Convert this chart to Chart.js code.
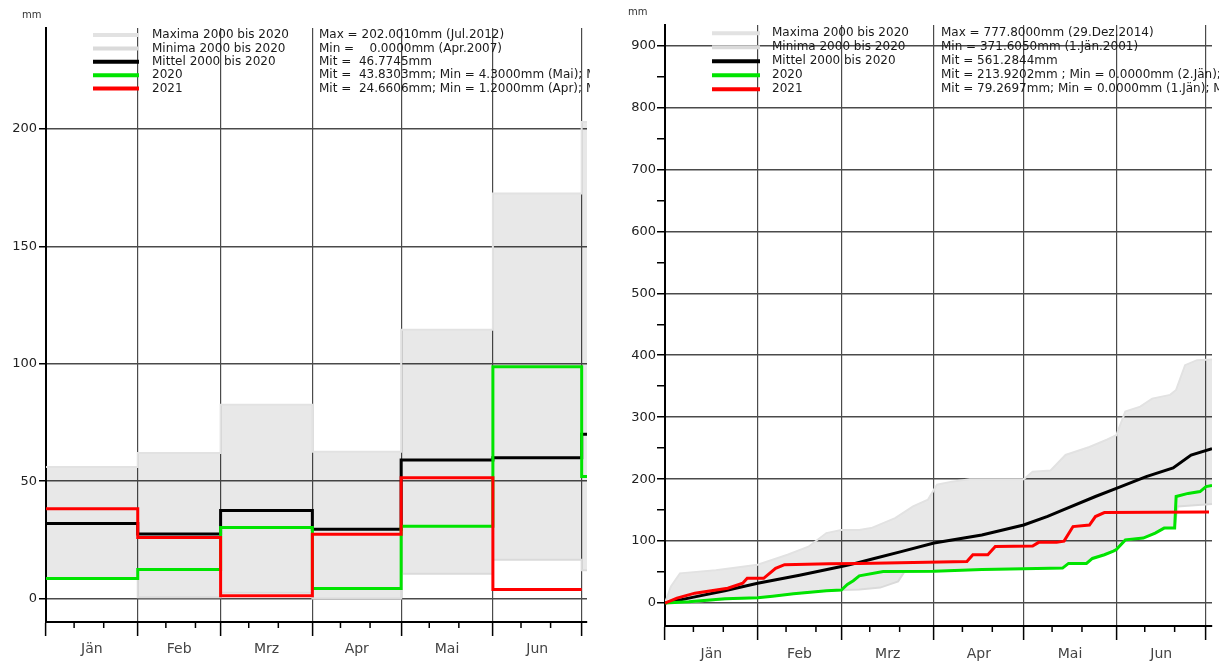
<!DOCTYPE html>
<html>
<head>
<meta charset="utf-8">
<script src="https://cdn.jsdelivr.net/npm/chart.js@4.4.1/dist/chart.umd.min.js"></script>
<style>
  body { margin: 0; background: #fff; }
  #wrap { position: relative; width: 1219px; height: 664px; overflow: hidden; }
  #monthChart { position: absolute; left: 0; top: 0; }
  #sumChart { position: absolute; left: 600px; top: 0; }
</style>
</head>
<body>
<div id="wrap">
  <canvas id="monthChart" width="600" height="664"></canvas>
  <canvas id="sumChart" width="619" height="664"></canvas>
</div>
<script>
// --- Data: Niederschlag 2000-2021 ---
const months = ["Jän", "Feb", "Mrz", "Apr", "Mai", "Jun", "Jul"];
const monthDays = [31, 28, 31, 30, 31, 30, 31];

// monthly sums (mm)
const maxMonthly = [56, 62, 82.5, 62.5, 114.5, 172.5, 203];
const minMonthly = [8.5, 0.5, 2.5, 0, 10.5, 16.5, 12];
const mittelMonthly = [32, 27.5, 37.5, 29.5, 59, 60, 70];
const monthly2020 = [8.5, 12.4, 30.3, 4.3, 30.8, 98.7, 52];
const monthly2021 = [38.2, 26, 1.2, 27.4, 51.4, 3.8];
const monthlyYTicks = [0, 50, 100, 150, 200];

// cumulative sums, [day of year, mm]
const sumMax = [[0,0],[2,27],[5,48],[17,53],[31,62],[41,78],[48,91],[54,113],[59,118],[65,118],[69,121],[77,137],[83,156],[88,167],[91,191],[96,196],[102,200],[120,200],[123,212],[129,214],[134,239],[142,252],[148,264],[151,271],[154,309],[159,317],[163,330],[169,336],[171,344],[174,384],[178,392],[183,393]];
const sumMin = [[0,0],[10,2],[21,6],[31,8.5],[43,15],[54,20],[59,21],[65,22],[72,25],[78,35],[80,50],[90,51.3],[106,54],[120,55.6],[133,56.5],[135,64],[141,64],[143,72],[147,78],[151,86.4],[154,102],[160,105],[164,113],[167,121],[170.5,121],[171.5,156],[183,160]];
const sumMittel = [[0,0],[10,10],[20,20],[31,32],[45,45],[59,59],[62,62],[70,72],[79,83],[90,97],[106,110],[120,126],[128,140],[133,150],[144,172],[151,185],[161,204],[170,218],[176,239],[183,249]];
const sum2020 = [[0,0],[8,2],[20,7],[31,8.5],[36,11],[43,15],[54,20],[59,21],[61,30],[63,36],[65,44],[73,51],[90,51.3],[106,54],[120,55.6],[133,56.5],[135,64],[141,64],[143,72],[147,78],[150,84],[151,86.4],[154,102],[160,105],[164,113],[167,121],[170.5,121],[171,172],[175,177],[179,180],[181,188],[183,190]];
const sum2021 = [[0,0],[4,8],[10,16],[21,24],[26,32],[27.5,40],[33,40],[37,56],[40,62],[55,63.6],[65,64],[101,67],[103,78],[108,78],[110.5,91.3],[123,92],[125,98],[131,98],[133.5,100],[136.5,123.5],[142,126],[144,139.7],[147,146],[163,146.4],[182,147]];
const sumYTicks = [0, 50, 100, 150, 200, 250, 300, 350, 400, 450, 500, 550, 600, 650, 700, 750, 800, 850, 900];

// legend texts
const legendNames = ["Maxima 2000 bis 2020", "Minima 2000 bis 2020", "Mittel 2000 bis 2020", "2020", "2021"];
const monthlyStats = [
  "Max = 202.0010mm (Jul.2012)",
  "Min =    0.0000mm (Apr.2007)",
  "Mit =  46.7745mm",
  "Mit =  43.8303mm; Min = 4.3000mm (Mai); Max",
  "Mit =  24.6606mm; Min = 1.2000mm (Apr); Max"
];
const sumStats = [
  "Max = 777.8000mm (29.Dez.2014)",
  "Min = 371.6050mm (1.Jän.2001)",
  "Mit = 561.2844mm",
  "Mit = 213.9202mm ; Min = 0.0000mm (2.Jän); Max",
  "Mit = 79.2697mm; Min = 0.0000mm (1.Jän); Max"
];

// --- Styles ---
const FONT = "'DejaVu Sans', sans-serif";
const COLORS = {
  maxLine: "#e2e2e2",
  minLine: "#dadada",
  band: "rgba(0,0,0,0.09)",
  mittel: "#000000",
  y2020: "#00e400",
  y2021: "#ff0000",
  grid: "#4a4a4a"
};
const legendColors = [COLORS.maxLine, COLORS.minLine, COLORS.mittel, COLORS.y2020, COLORS.y2021];

Chart.defaults.font.family = FONT;

// month start days
const monthStarts = [];
let acc = 0;
monthDays.forEach(d => { monthStarts.push(acc); acc += d; });

function stepPoints(vals) {
  const pts = vals.map((v, i) => ({ x: monthStarts[i], y: v }));
  const last = vals.length - 1;
  pts.push({ x: monthStarts[last] + monthDays[last], y: vals[last] });
  return pts;
}

function toPoints(pairs) {
  return pairs.map(p => ({ x: p[0], y: p[1] }));
}

// x ticks: month boundaries (grid + long tick) and month middles (label only)
function dayTicks(max) {
  const ticks = [];
  monthStarts.forEach((s, i) => {
    if (s <= max) ticks.push({ value: s, kind: "month", name: "" });
    const mid = s + monthDays[i] / 2;
    if (mid < max) ticks.push({ value: mid, kind: "mid", name: months[i] });
  });
  return ticks.sort((a, b) => a.value - b.value);
}

function xScale(max, labelPad, height) {
  return {
    type: "linear",
    min: 0,
    max: max,
    afterBuildTicks: s => { s.ticks = dayTicks(max); },
    afterFit: s => { s.height = height; },
    grid: {
      color: c => (c.tick && c.tick.kind === "month") ? COLORS.grid : "rgba(0,0,0,0)",
      lineWidth: 1.2,
      tickLength: 14,
      tickColor: c => (c.tick && c.tick.kind === "month") ? "#000" : "rgba(0,0,0,0)",
      tickWidth: 1.5
    },
    border: { color: "#000", width: 2 },
    ticks: {
      autoSkip: false,
      maxRotation: 0,
      padding: labelPad,
      color: "#444",
      font: { size: 14 },
      callback: (v, i, t) => t[i].kind === "mid" ? t[i].name : ""
    }
  };
}

// legend, "mm" label and minor x ticks
function decorPlugin(stats, o) {
  return {
    id: "decor",
    afterDraw(chart) {
      const ctx = chart.ctx;
      const area = chart.chartArea;
      const x = chart.scales.x;
      ctx.save();

      // minor ticks on 10th and 20th
      ctx.strokeStyle = "#000";
      ctx.lineWidth = 1.5;
      monthStarts.forEach(s => {
        [9.5, 19.5].forEach(off => {
          const v = s + off;
          if (v < x.max) {
            const px = x.getPixelForValue(v);
            ctx.beginPath();
            ctx.moveTo(px, area.bottom);
            ctx.lineTo(px, area.bottom + 6);
            ctx.stroke();
          }
        });
      });

      ctx.fillStyle = "#333";
      ctx.font = "10px " + FONT;
      ctx.textBaseline = "middle";
      ctx.fillText("mm", o.mmX, o.mmY);

      ctx.font = "12px " + FONT;
      legendNames.forEach((name, i) => {
        const y = o.top + i * o.step;
        ctx.strokeStyle = legendColors[i];
        ctx.lineWidth = 4;
        ctx.beginPath();
        ctx.moveTo(o.lineX0, y);
        ctx.lineTo(o.lineX1, y);
        ctx.stroke();
        ctx.fillStyle = "#1a1a1a";
        ctx.fillText(name, o.textX, y);
      });

      ctx.beginPath();
      ctx.rect(0, 0, o.clipRight, chart.height);
      ctx.clip();
      stats.forEach((s, i) => {
        ctx.fillText(s, o.statX, o.top + i * o.step);
      });
      ctx.restore();
    }
  };
}

function lineSet(label, data, color, stepped) {
  return {
    label: label,
    data: data,
    borderColor: color,
    borderWidth: 3,
    pointRadius: 0,
    stepped: stepped,
    fill: false
  };
}

// --- Left: monthly sums ---
new Chart(document.getElementById("monthChart"), {
  type: "line",
  data: {
    datasets: [
      lineSet("2021", stepPoints(monthly2021), COLORS.y2021, true),
      lineSet("2020", stepPoints(monthly2020), COLORS.y2020, true),
      lineSet("Mittel 2000 bis 2020", stepPoints(mittelMonthly), COLORS.mittel, true),
      { label: "Minima 2000 bis 2020", data: stepPoints(minMonthly), borderColor: COLORS.minLine,
        borderWidth: 2, pointRadius: 0, stepped: true, fill: false },
      { label: "Maxima 2000 bis 2020", data: stepPoints(maxMonthly), borderColor: COLORS.maxLine,
        borderWidth: 2, pointRadius: 0, stepped: true, fill: "-1", backgroundColor: COLORS.band }
    ]
  },
  options: {
    responsive: false,
    animation: false,
    events: [],
    layout: { padding: { top: 28, right: 13, left: 0, bottom: 0 } },
    plugins: { legend: { display: false }, tooltip: { enabled: false } },
    scales: {
      x: xScale(182.8, 5, 42),
      y: {
        type: "linear",
        min: -10,
        max: 243,
        afterBuildTicks: s => { s.ticks = monthlyYTicks.map(v => ({ value: v })); },
        afterFit: s => { s.width = 46; },
        grid: { color: COLORS.grid, lineWidth: 1.5, tickLength: 7, tickColor: "#000" },
        border: { color: "#000", width: 2 },
        ticks: { color: "#222", padding: 2, font: { size: 13 } }
      }
    }
  },
  plugins: [decorPlugin(monthlyStats, {
    mmX: 22, mmY: 15, top: 35, step: 13.4,
    lineX0: 93, lineX1: 139, textX: 152, statX: 319, clipRight: 590
  })]
});

// --- Right: cumulative sums ---
new Chart(document.getElementById("sumChart"), {
  type: "line",
  data: {
    datasets: [
      lineSet("2021", toPoints(sum2021), COLORS.y2021, false),
      lineSet("2020", toPoints(sum2020), COLORS.y2020, false),
      lineSet("Mittel 2000 bis 2020", toPoints(sumMittel), COLORS.mittel, false),
      { label: "Minima 2000 bis 2020", data: toPoints(sumMin), borderColor: COLORS.minLine,
        borderWidth: 2, pointRadius: 0, fill: false },
      { label: "Maxima 2000 bis 2020", data: toPoints(sumMax), borderColor: COLORS.maxLine,
        borderWidth: 2, pointRadius: 0, fill: "-1", backgroundColor: COLORS.band }
    ]
  },
  options: {
    responsive: false,
    animation: false,
    events: [],
    layout: { padding: { top: 25, right: 7, left: 0, bottom: 0 } },
    plugins: { legend: { display: false }, tooltip: { enabled: false } },
    scales: {
      x: xScale(183, 6, 38),
      y: {
        type: "linear",
        min: -37,
        max: 933,
        afterBuildTicks: s => { s.ticks = sumYTicks.map(v => ({ value: v })); },
        afterFit: s => { s.width = 65; },
        grid: {
          color: c => (c.tick && c.tick.value % 100 === 0) ? COLORS.grid : "rgba(0,0,0,0)",
          lineWidth: 1.5,
          tickLength: 8,
          tickColor: "#000"
        },
        border: { color: "#000", width: 2 },
        ticks: {
          color: "#222",
          padding: 1,
          font: { size: 13 },
          callback: v => v % 100 === 0 ? String(v) : ""
        }
      }
    }
  },
  plugins: [decorPlugin(sumStats, {
    mmX: 28, mmY: 12, top: 33.3, step: 14,
    lineX0: 112, lineX1: 160, textX: 172, statX: 341, clipRight: 619
  })]
});
</script>
</body>
</html>
